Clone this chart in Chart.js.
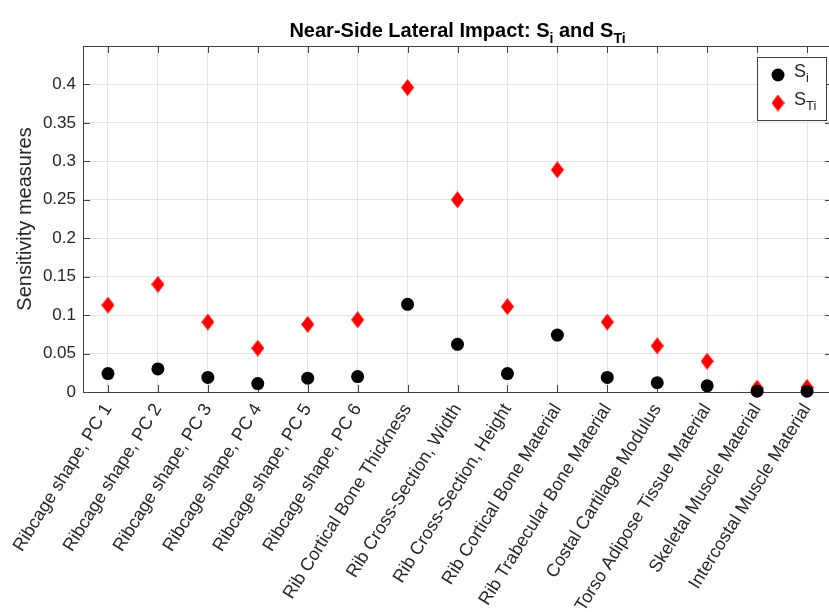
<!DOCTYPE html>
<html>
<head>
<meta charset="utf-8">
<script src="https://cdn.jsdelivr.net/npm/chart.js@4"></script>
<style>
  html, body { margin: 0; padding: 0; background: #fff; overflow: hidden; }
  #wrap { width: 829px; height: 612px; overflow: hidden; }
</style>
</head>
<body>
<div id="wrap"><canvas id="c" width="840" height="612"></canvas></div>
<script>
// categories (x axis)
var categories = [
  "Ribcage shape, PC 1", "Ribcage shape, PC 2", "Ribcage shape, PC 3",
  "Ribcage shape, PC 4", "Ribcage shape, PC 5", "Ribcage shape, PC 6",
  "Rib Cortical Bone Thickness", "Rib Cross-Section, Width",
  "Rib Cross-Section, Height", "Rib Cortical Bone Material",
  "Rib Trabecular Bone Material", "Costal Cartilage Modulus",
  "Torso Adipose Tissue Material", "Skeletal Muscle Material",
  "Intercostal Muscle Material"
];
// first order indices S_i
var si  = [0.024, 0.030, 0.019, 0.011, 0.018, 0.020, 0.114, 0.062, 0.024, 0.074, 0.019, 0.012, 0.008, 0.001, 0.001];
// total indices S_Ti
var sti = [0.113, 0.140, 0.091, 0.057, 0.088, 0.094, 0.396, 0.250, 0.111, 0.289, 0.091, 0.060, 0.040, 0.005, 0.006];
var yTicks = [0, 0.05, 0.1, 0.15, 0.2, 0.25, 0.3, 0.35, 0.4];
var seriesNames = [["S", "i"], ["S", "Ti"]];
var titleParts = [["Near-Side Lateral Impact: S", false], ["i", true], [" and S", false], ["Ti", true]];

var FONT = "'Liberation Sans', Arial, sans-serif";
var TXT = "#262626";

// diamond marker, a bit taller than wide like MATLAB's
function diamond(w, h, col) {
  var cv = document.createElement("canvas");
  cv.width = w; cv.height = h;
  var g = cv.getContext("2d");
  g.fillStyle = col;
  g.beginPath();
  g.moveTo(w / 2, 0); g.lineTo(w, h / 2); g.lineTo(w / 2, h); g.lineTo(0, h / 2);
  g.closePath(); g.fill();
  return cv;
}
var redDiamond = diamond(13, 17, "#ff0000");

// draws text runs with subscripts, returns width
function richText(ctx, parts, x, y, size, bold, measureOnly) {
  var w = 0;
  parts.forEach(function (p) {
    var s = p[1] ? Math.round(size * 0.72) : size;
    ctx.font = (bold ? "bold " : "") + s + "px " + FONT;
    if (!measureOnly) ctx.fillText(p[0], x + w, y + (p[1] ? size * 0.3 : 0));
    w += ctx.measureText(p[0]).width;
  });
  return w;
}

var decor = {
  id: "decor",
  beforeDatasetsDraw: function (chart) {
    var ctx = chart.ctx, a = chart.chartArea;
    var xs = chart.scales.x, ys = chart.scales.y;
    ctx.save();
    ctx.strokeStyle = "#404040";
    ctx.lineWidth = 1;
    ctx.strokeRect(a.left + 0.5, a.top + 0.5, a.right - a.left, a.bottom - a.top);
    ctx.beginPath();
    xs.ticks.forEach(function (t, i) {
      var px = Math.round(xs.getPixelForTick(i)) + 0.5;
      ctx.moveTo(px, a.bottom); ctx.lineTo(px, a.bottom - 7);
      ctx.moveTo(px, a.top); ctx.lineTo(px, a.top + 7);
    });
    ys.ticks.forEach(function (t) {
      var py = Math.round(ys.getPixelForValue(t.value)) + 0.5;
      ctx.moveTo(a.left, py); ctx.lineTo(a.left + 7, py);
      ctx.moveTo(a.right, py); ctx.lineTo(a.right - 7, py);
    });
    ctx.stroke();
    ctx.restore();
  },
  afterDraw: function (chart) {
    var ctx = chart.ctx, a = chart.chartArea;
    ctx.save();
    ctx.fillStyle = "#000";
    ctx.textBaseline = "alphabetic";
    // title
    var tw = richText(ctx, titleParts, 0, 0, 20, true, true);
    richText(ctx, titleParts, (a.left + a.right) / 2 - tw / 2, 37, 20, true, false);
    // legend box inside the axes
    var lx = 757, ly = 57, lw = 69, lh = 63;
    ctx.fillStyle = "#fff";
    ctx.fillRect(lx, ly, lw, lh);
    ctx.strokeStyle = "#404040";
    ctx.lineWidth = 1;
    ctx.strokeRect(lx + 0.5, ly + 0.5, lw, lh);
    chart.data.datasets.forEach(function (ds, i) {
      var cy = ly + 18 + i * 28;
      if (ds.pointStyle === "circle") {
        ctx.fillStyle = ds.pointBackgroundColor;
        ctx.beginPath(); ctx.arc(lx + 21, cy, 6.5, 0, Math.PI * 2); ctx.fill();
      } else {
        ctx.drawImage(ds.pointStyle, lx + 21 - ds.pointStyle.width / 2, cy - ds.pointStyle.height / 2);
      }
      ctx.fillStyle = TXT;
      richText(ctx, [[seriesNames[i][0], false], [seriesNames[i][1], true]], lx + 37, cy + 2, 18, false, false);
    });
    ctx.restore();
  }
};

new Chart(document.getElementById("c"), {
  type: "line",
  data: {
    labels: categories,
    datasets: [
      {
        label: "Si", data: si, showLine: false, clip: false,
        pointStyle: "circle", pointRadius: 6.5, pointHoverRadius: 6.5,
        pointBackgroundColor: "#000", pointBorderWidth: 0, borderColor: "#000"
      },
      {
        label: "STi", data: sti, showLine: false, clip: false,
        pointStyle: redDiamond, pointRadius: 8, pointHoverRadius: 8,
        pointBackgroundColor: "#f00", pointBorderWidth: 0, borderColor: "#f00"
      }
    ]
  },
  options: {
    responsive: false,
    animation: false,
    events: [],
    layout: { padding: { top: 46, right: 4, left: 13, bottom: 0 } },
    plugins: { legend: { display: false }, title: { display: false }, tooltip: { enabled: false } },
    scales: {
      x: {
        type: "category",
        offset: true,
        grid: { offset: false, color: "#e3e3e3", drawTicks: false },
        border: { display: false },
        ticks: {
          autoSkip: false, minRotation: 58, maxRotation: 58, padding: 8,
          color: TXT, font: { family: FONT, size: 18 }
        },
        afterFit: function (s) { s.height = 220; }
      },
      y: {
        min: 0, max: 0.45,
        grid: { color: "#e3e3e3", drawTicks: false },
        border: { display: false },
        afterBuildTicks: function (s) {
          s.ticks = yTicks.map(function (v) { return { value: v }; });
        },
        ticks: {
          padding: 7, color: TXT, font: { family: FONT, size: 17 },
          callback: function (v) { return String(+Number(v).toFixed(2)); }
        },
        title: {
          display: true, text: "Sensitivity measures", color: TXT,
          font: { family: FONT, size: 20 }, padding: { top: 0, bottom: 0 }
        },
        afterFit: function (s) { s.width = 70; }
      }
    }
  },
  plugins: [decor]
});
</script>
</body>
</html>
